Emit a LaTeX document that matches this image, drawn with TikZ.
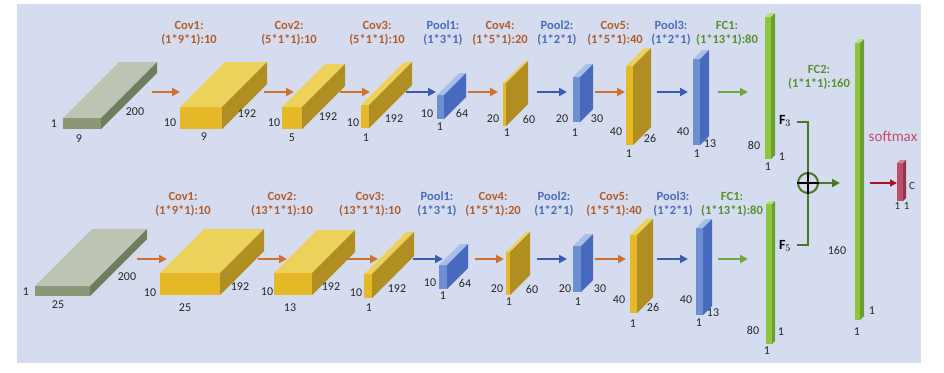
\documentclass[tikz,border=0pt]{standalone}
\usepackage{fontspec}
\setmainfont{Carlito}
\usetikzlibrary{arrows.meta}
\definecolor{bg}{RGB}{214,220,239}
\definecolor{gyF}{RGB}{138,150,118}
\definecolor{gyT}{RGB}{190,196,180}
\definecolor{gyS}{RGB}{110,126,92}
\definecolor{yeF}{RGB}{229,184,40}
\definecolor{yeT}{RGB}{236,210,90}
\definecolor{yeS}{RGB}{176,142,34}
\definecolor{blF}{RGB}{110,142,210}
\definecolor{blT}{RGB}{168,192,232}
\definecolor{blS}{RGB}{72,106,190}
\definecolor{grF}{RGB}{140,198,62}
\definecolor{grT}{RGB}{182,222,130}
\definecolor{grS}{RGB}{106,160,46}
\definecolor{rdF}{RGB}{184,80,104}
\definecolor{rdT}{RGB}{212,128,144}
\definecolor{rdS}{RGB}{150,50,80}
\definecolor{orA}{RGB}{208,112,48}
\definecolor{blA}{RGB}{58,92,176}
\definecolor{grA}{RGB}{112,168,64}
\definecolor{orL}{RGB}{178,94,42}
\definecolor{blL}{RGB}{74,108,190}
\definecolor{grL}{RGB}{88,144,48}
\definecolor{dgr}{RGB}{74,120,34}
\definecolor{smx}{RGB}{192,80,106}
\definecolor{rdA}{RGB}{170,20,36}
% cuboid: name, x, ybottom, w, h, depth, colour prefix
\newcommand\cub[7]{%
  \fill[#7F] ({#2},{#3}) rectangle ++({#4},{-#5});
  \fill[#7T] ({#2},{#3-#5}) -- ++({#4},0) -- ++({#6},{-#6}) -- ++({-#4},0) -- cycle;
  \fill[#7S] ({#2+#4},{#3}) -- ++(0,{-#5}) -- ++({#6},{-#6}) -- ++(0,{#5}) -- cycle;
  \coordinate (#1) at ({#2+#4/2},{#3-#5/2});}
% arrow: name, style, x1, x2, y
\newcommand\arr[5]{%
  \coordinate (#1s) at (#3,#5); \coordinate (#1e) at (#4,#5);
  \draw[arrw,#2] (#1s) -- (#1e);}
% layer label: name, colour, x, y, line1, line2
\newcommand\lbl[6]{%
  \node[lab,text=#2] (#1a) at (#3,#4) {#5};
  \node[lab,text=#2] (#1b) at (#3,{#4+15}) {#6};}
\newcommand\dm[3]{\node[dim] at (#1,#2) {#3};}
\begin{document}
\begin{tikzpicture}[x=1pt,y=-1pt,
  arrw/.style={line width=2pt,-{Triangle[length=8pt,width=8pt]}},
  lab/.style={font=\fontsize{12.5}{14}\selectfont\bfseries,inner sep=0pt},
  dim/.style={font=\fontsize{12}{14}\selectfont,inner sep=0pt,text=black!85},
  fuse/.style={dgr,line width=2pt}]
\useasboundingbox (0,0) rectangle (944,372);
\fill[bg] (17,4) rectangle (921,363);
% ---------- top row ----------
\cub{tin}{63}{129}{38}{11}{56}{gy}
\cub{tc1}{180}{129}{42}{22}{45}{ye}
\cub{tc2}{282}{129}{20}{22}{43}{ye}
\cub{tc3}{361}{128}{8}{23}{43}{ye}
\cub{tp1}{437}{119}{7}{24}{22}{bl}
\cub{tc4}{503}{126}{3}{43}{22}{ye}
\cub{tp2}{573}{122}{7}{45}{13}{bl}
\cub{tc5}{626}{145}{7}{79}{18}{ye}
\cub{tp3}{693}{145}{7}{86}{9}{bl}
\cub{tf1}{765}{159}{6}{142}{4}{gr}
% ---------- bottom row ----------
\cub{bin}{35}{296}{55}{10}{57}{gy}
\cub{bc1}{160}{295}{60}{22}{44}{ye}
\cub{bc2}{274}{295}{38}{22}{43}{ye}
\cub{bc3}{364}{298}{8}{24}{42}{ye}
\cub{bp1}{439}{289}{8}{24}{21}{bl}
\cub{bc4}{506}{295}{4}{43}{20}{ye}
\cub{bp2}{573}{292}{8}{46}{12}{bl}
\cub{bc5}{630}{313}{7}{78}{16}{ye}
\cub{bp3}{696}{315}{7}{87}{9}{bl}
\cub{bf1}{766}{344}{6}{140}{3}{gr}
% ---------- FC2 and softmax ----------
\cub{fc2}{855}{320}{5}{277}{4}{gr}
\cub{smb}{897}{201}{6}{38}{3}{rd}
% ---------- arrows ----------
\arr{ta1}{orA}{152}{180}{92}
\arr{ta2}{orA}{264}{294}{92}
\arr{ta3}{orA}{340}{370}{92}
\arr{ta4}{blA}{406}{436}{92}
\arr{ta5}{orA}{468}{498}{92}
\arr{ta6}{blA}{537}{567}{92}
\arr{ta7}{orA}{595}{625}{92}
\arr{ta8}{blA}{657}{688}{92}
\arr{ta9}{grA}{718}{748}{92}
\arr{ba1}{orA}{137}{167}{259}
\arr{ba2}{orA}{258}{287}{259}
\arr{ba3}{orA}{348}{378}{259}
\arr{ba4}{blA}{413}{443}{259}
\arr{ba5}{orA}{475}{504}{259}
\arr{ba6}{blA}{537}{567}{259}
\arr{ba7}{orA}{595}{626}{259}
\arr{ba8}{blA}{657}{688}{259}
\arr{ba9}{grA}{718}{748}{259}
% ---------- layer labels ----------
\lbl{tl1}{orL}{189}{25}{Cov1:}{(1*9*1):10}
\lbl{tl2}{orL}{289}{25}{Cov2:}{(5*1*1):10}
\lbl{tl3}{orL}{377}{25}{Cov3:}{(5*1*1):10}
\lbl{tl4}{blL}{443}{25}{Pool1:}{(1*3*1)}
\lbl{tl5}{orL}{500}{25}{Cov4:}{(1*5*1):20}
\lbl{tl6}{blL}{557}{25}{Pool2:}{(1*2*1)}
\lbl{tl7}{orL}{615}{25}{Cov5:}{(1*5*1):40}
\lbl{tl8}{blL}{671}{25}{Pool3:}{(1*2*1)}
\lbl{tl9}{grL}{727}{25}{FC1:}{(1*13*1):80}
\lbl{bl1}{orL}{183}{196}{Cov1:}{(1*9*1):10}
\lbl{bl2}{orL}{282}{196}{Cov2:}{(13*1*1):10}
\lbl{bl3}{orL}{370}{196}{Cov3:}{(13*1*1):10}
\lbl{bl4}{blL}{437}{196}{Pool1:}{(1*3*1)}
\lbl{bl5}{orL}{493}{196}{Cov4:}{(1*5*1):20}
\lbl{bl6}{blL}{554}{196}{Pool2:}{(1*2*1)}
\lbl{bl7}{orL}{614}{196}{Cov5:}{(1*5*1):40}
\lbl{bl8}{blL}{673}{196}{Pool3:}{(1*2*1)}
\lbl{bl9}{grL}{732}{196}{FC1:}{(1*13*1):80}
\lbl{fl2}{grL}{819}{69}{FC2:}{(1*1*1):160}
% ---------- dimension labels, top ----------
\dm{54}{124}{1}\dm{79}{139}{9}\dm{135}{112}{200}
\dm{170}{123}{10}\dm{204}{137}{9}\dm{247}{114}{192}
\dm{274}{123}{10}\dm{292}{138}{5}\dm{328}{117}{192}
\dm{353}{123}{10}\dm{394}{119}{192}\dm{366}{138}{1}
\dm{427}{114}{10}\dm{462}{113}{64}\dm{440}{127}{1}
\dm{493}{119}{20}\dm{529}{119}{60}\dm{507}{133}{1}
\dm{562}{119}{20}\dm{597}{119}{30}\dm{575}{133}{1}
\dm{616}{132}{40}\dm{650}{138}{26}\dm{629}{154}{1}
\dm{683}{132}{40}\dm{710}{144}{13}\dm{697}{154}{1}
\dm{754}{145}{80}\dm{782}{157}{1}\dm{768}{167}{1}
\dm{837}{250}{160}\dm{872}{311}{1}\dm{857}{332}{1}
% ---------- dimension labels, bottom ----------
\dm{26}{292}{1}\dm{58}{305}{25}\dm{127}{277}{200}
\dm{150}{293}{10}\dm{185}{308}{25}\dm{240}{287}{192}
\dm{267}{292}{10}\dm{290}{308}{13}\dm{331}{287}{192}
\dm{356}{293}{10}\dm{397}{289}{192}\dm{369}{308}{1}
\dm{430}{283}{10}\dm{465}{283}{64}\dm{443}{296}{1}
\dm{497}{289}{20}\dm{532}{289}{60}\dm{509}{302}{1}
\dm{565}{289}{20}\dm{600}{289}{30}\dm{578}{302}{1}
\dm{619}{300}{40}\dm{653}{307}{26}\dm{633}{324}{1}
\dm{686}{300}{40}\dm{713}{313}{13}\dm{699}{323}{1}
\dm{753}{330}{80}\dm{781}{332}{1}\dm{767}{351}{1}
% ---------- fusion ----------
\node[font=\fontsize{14}{15}\selectfont,inner sep=0pt] (f3) at (785,121) {$\mathbf{F}_3$};
\node[font=\fontsize{14}{15}\selectfont,inner sep=0pt] (f5) at (785,246) {$\mathbf{F}_5$};
\node[circle,draw=dgr,line width=2pt,minimum size=20pt,inner sep=0pt] (op) at (808,183) {};
\coordinate (f3e) at (797,122);
\coordinate (f5e) at (797,245);
\coordinate (fin) at (840,183);
\draw[fuse] (f3e) -| (op.north);
\draw[fuse] (op.south) |- (f5e);
\draw[black,line width=1.2pt] (op.north) -- (op.south) (op.west) -- (op.east);
\draw[fuse,-{Triangle[length=8pt,width=8pt]}] (op.east) -- (fin);
% ---------- softmax ----------
\node[font=\fontsize{15}{16}\selectfont,text=smx,inner sep=0pt] (smt) at (893,136) {softmax};
\coordinate (sms) at (870,183);
\coordinate (sme) at (897,183);
\draw[rdA,line width=1.5pt,-{Triangle[length=7pt,width=7pt]}] (sms) -- (sme);
\node[dim,font=\fontsize{11}{12}\selectfont] (smc) at (912,186) {C};
\node[dim,font=\fontsize{11}{12}\selectfont] (sm11) at (902,206) {1\,\,1};
\end{tikzpicture}
\end{document}
